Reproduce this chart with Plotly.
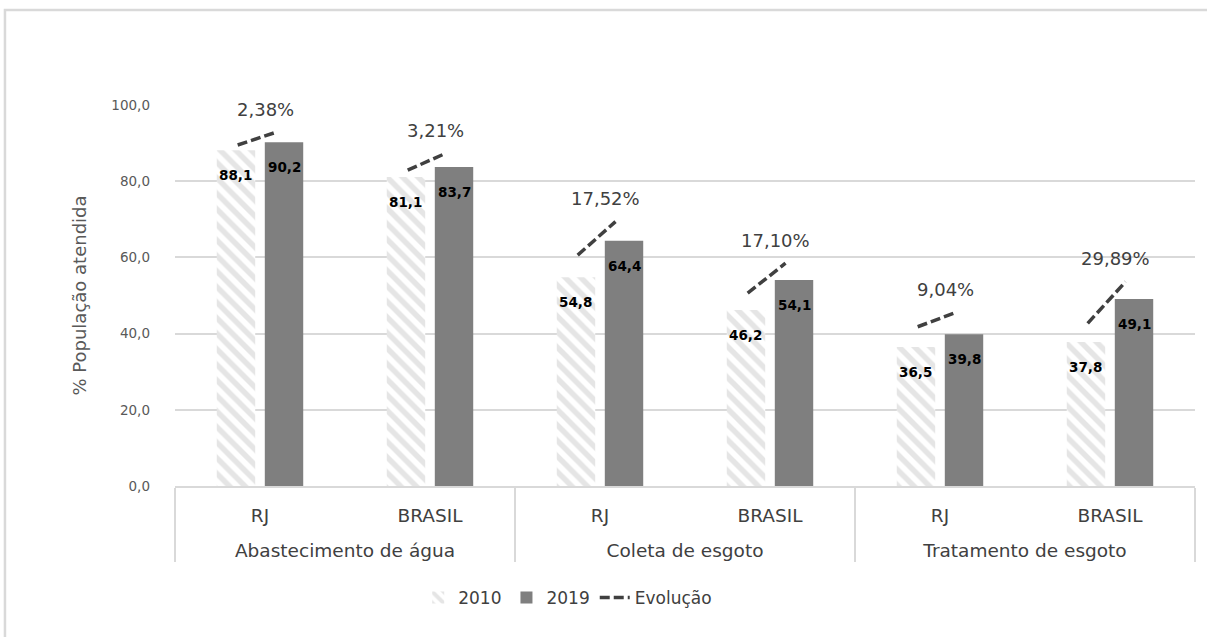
import plotly.graph_objects as go

# ---------------- data ----------------
groups = ["Abastecimento de água", "Coleta de esgoto", "Tratamento de esgoto"]
regions = ["RJ", "BRASIL"]
year_names = ["2010", "2019"]
v2010 = [88.1, 81.1, 54.8, 46.2, 36.5, 37.8]
v2019 = [90.2, 83.7, 64.4, 54.1, 39.8, 49.1]
evo_name = "Evolução"
evo_pct = ["2,38%", "3,21%", "17,52%", "17,10%", "9,04%", "29,89%"]
evo_start = [89.5, 82.9, 60.6, 50.6, 41.8, 42.7]
evo_end = [92.8, 87.3, 69.4, 58.5, 45.5, 53.6]
y_ticks = [0, 20, 40, 60, 80, 100]
y_title = "% População atendida"

# ---------------- style ----------------
FONT = "DejaVu Sans"
BARGAP = 0.435
GROUPGAP = 0.2
off = (1 - BARGAP) / 4.0  # bar-centre offset in category units

# outer level label gets an empty first line to push it lower (as in the reference)
xcat = [[" <br>" + g for g in groups for _ in regions], [r for _ in groups for r in regions]]
pos = list(range(len(v2010)))


def fmt(v):
    return f"{v:.1f}".replace(".", ",")


fig = go.Figure()
fig.add_trace(go.Bar(
    x=xcat, y=v2010, name=year_names[0],
    marker=dict(color="white", line=dict(width=0),
                pattern=dict(shape="\\", fgcolor="#cccccc", bgcolor="white",
                             size=11, solidity=0.5)),
    hoverinfo="skip",
))
fig.add_trace(go.Bar(
    x=xcat, y=v2019, name=year_names[1],
    marker=dict(color="#7f7f7f", line=dict(width=0)),
    hoverinfo="skip",
))

# Evolução dashed segments (one trace, gaps between segments)
ex, ey = [], []
for i in pos:
    ex += [i - off + 0.01, i + off - 0.05, None]
    ey += [evo_start[i], evo_end[i], None]
fig.add_trace(go.Scatter(
    x=ex, y=ey, xaxis="x2", yaxis="y", mode="lines", name=evo_name,
    line=dict(color="#404040", width=3.5, dash="10px,4px"),
    connectgaps=False, hoverinfo="skip",
))

annotations = []
for i in pos:
    annotations.append(dict(
        x=i - off, y=v2010[i], xref="x2", yref="y", text=fmt(v2010[i]),
        showarrow=False, yshift=-25, yanchor="middle",
        font=dict(family=FONT, size=13.5, color="#000000", weight="bold"),
    ))
    annotations.append(dict(
        x=i + off, y=v2019[i], xref="x2", yref="y", text=fmt(v2019[i]),
        showarrow=False, yshift=-25, yanchor="middle",
        font=dict(family=FONT, size=13.5, color="#000000", weight="bold"),
    ))
    annotations.append(dict(
        x=i + 0.03, y=evo_end[i], xref="x2", yref="y", text=evo_pct[i],
        showarrow=False, yshift=23, yanchor="middle",
        font=dict(family=FONT, size=18, color="#404040"),
    ))

fig.update_layout(
    width=1207, height=637, autosize=False,
    margin=dict(l=175, r=12, t=105, b=151),
    paper_bgcolor="white", plot_bgcolor="white",
    font=dict(family=FONT, color="#404040"),
    separators=",.",
    barmode="group", bargap=BARGAP, bargroupgap=GROUPGAP,
    showlegend=True,
    legend=dict(orientation="h", x=0.385, xanchor="center", y=-0.294, yanchor="middle",
                font=dict(family=FONT, size=17, color="#404040"),
                itemwidth=30, bgcolor="rgba(0,0,0,0)", traceorder="normal"),
    xaxis=dict(type="multicategory", range=[-0.5, 5.5],
               showline=True, linecolor="#d9d9d9", linewidth=1.5,
               showdividers=True, dividercolor="#d9d9d9", dividerwidth=1.5,
               showgrid=False, ticks="", ticklabelstandoff=12,
               tickfont=dict(family=FONT, size=18.5, color="#404040")),
    xaxis2=dict(overlaying="x", range=[-0.5, 5.5], visible=False, anchor="y"),
    yaxis=dict(range=[0, 100], tickvals=y_ticks, tickformat=".1f",
               showgrid=True, gridcolor="#d9d9d9", gridwidth=1.5,
               zeroline=False, showline=False, ticks="",
               ticklabelstandoff=24,
               tickfont=dict(family=FONT, size=13.5, color="#595959"),
               title=dict(text=y_title, standoff=20,
                          font=dict(family=FONT, size=18, color="#595959"))),
    annotations=annotations,
    shapes=[dict(type="rect", xref="paper", yref="paper",
                 x0=-0.1667, x1=1.5, y0=-0.8, y1=1.2493,
                 line=dict(color="#d9d9d9", width=2.5), fillcolor="rgba(0,0,0,0)",
                 layer="below")],
)

fig.write_html("out.html")
